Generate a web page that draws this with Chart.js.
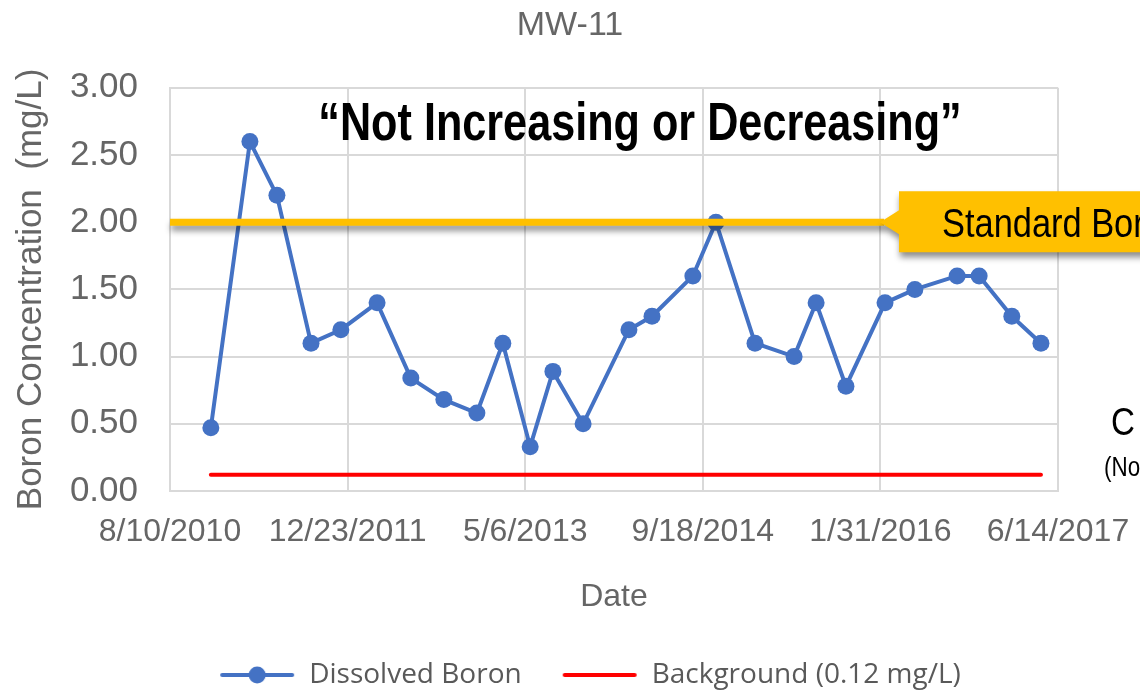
<!DOCTYPE html>
<html>
<head>
<meta charset="utf-8">
<script src="https://cdn.jsdelivr.net/npm/chart.js@4.4.1/dist/chart.umd.min.js"></script>
<style>
  html, body { margin: 0; padding: 0; background: #fff; }
  #wrap { width: 1140px; height: 693px; }
</style>
</head>
<body>
<div id="wrap"><canvas id="boronChart" width="1140" height="693"></canvas></div>
<script>
// sample dates and dissolved boron results (mg/L)
const sampleDates = [
    '12/3/2010', '3/23/2011', '6/7/2011', '9/11/2011', '12/4/2011',
    '3/15/2012', '6/18/2012', '9/19/2012', '12/21/2012', '3/4/2013',
    '5/20/2013', '7/23/2013', '10/16/2013', '2/22/2014', '4/28/2014',
    '8/21/2014', '10/25/2014', '2/12/2015', '6/2/2015', '8/3/2015',
    '10/26/2015', '2/13/2016', '5/7/2016', '9/3/2016', '11/4/2016',
    '2/4/2017', '4/27/2017'
];
const boronValues = [
    0.47, 2.60, 2.20, 1.10, 1.20,
    1.40, 0.84, 0.68, 0.58, 1.10,
    0.33, 0.89, 0.50, 1.20, 1.30,
    1.60, 2.00, 1.10, 1.00, 1.40,
    0.78, 1.40, 1.50, 1.60, 1.60,
    1.30, 1.10
];
const backgroundLevel = 0.12;
const standardLevel = 2.00;
const tickDates = ['8/10/2010', '12/23/2011', '5/6/2013', '9/18/2014', '1/31/2016', '6/14/2017'];
const seriesNames = ['Dissolved Boron', 'Background (0.12 mg/L)'];

const DAY = 86400000;
function toDay(s) {
    const [m, d, y] = s.split('/').map(Number);
    return Date.UTC(y, m - 1, d) / DAY;
}
function fromDay(v) {
    const dt = new Date(Math.round(v) * DAY);
    return (dt.getUTCMonth() + 1) + '/' + dt.getUTCDate() + '/' + dt.getUTCFullYear();
}

const grey = '#666666';
const gridGrey = '#d9d9d9';
const arial = '"Liberation Sans", Arial, sans-serif';

function legendSwatch(color, withDot) {
    const c = document.createElement('canvas');
    c.width = 76; c.height = 20;
    const g = c.getContext('2d');
    g.strokeStyle = color;
    g.lineWidth = 4;
    g.lineCap = 'round';
    g.beginPath(); g.moveTo(3, 10); g.lineTo(73, 10); g.stroke();
    if (withDot) {
        g.fillStyle = color;
        g.beginPath(); g.arc(38, 10, 8.5, 0, Math.PI * 2); g.fill();
    }
    return c;
}
const swatches = [legendSwatch('#4472C4', true), legendSwatch('#FF0000', false)];

// no narrow font installed, so squeeze Liberation Sans horizontally
function narrowText(ctx, text, x, y, font, align, sx) {
    ctx.save();
    ctx.font = font;
    ctx.textAlign = align;
    ctx.textBaseline = 'alphabetic';
    ctx.translate(x, y);
    ctx.scale(sx || 0.8, 1);
    ctx.fillText(text, 0, 0);
    ctx.restore();
}

// move title / legend so they sit where the slide had them
const blockShift = {
    id: 'blockShift',
    afterLayout(chart) {
        if (chart.titleBlock) { chart.titleBlock.left += 41; chart.titleBlock.right += 41; }
        if (chart.legend) { chart.legend.left += 61; chart.legend.right += 61; chart.legend.top += 6; chart.legend.bottom += 6; }
    }
};

// slide overlays: standard line + callout, and the quoted text
const overlays = {
    id: 'overlays',
    afterDatasetsDraw(chart) {
        const {ctx, chartArea, scales: {y}} = chart;
        const yStd = y.getPixelForValue(standardLevel);
        const tipX = chartArea.right - 178;

        ctx.save();
        ctx.shadowColor = 'rgba(0,0,0,0.45)';
        ctx.shadowBlur = 6;
        ctx.shadowOffsetX = 1;
        ctx.shadowOffsetY = 5;
        ctx.strokeStyle = '#FFC000';
        ctx.lineWidth = 7;
        ctx.beginPath();
        ctx.moveTo(chartArea.left, yStd);
        ctx.lineTo(tipX + 4, yStd);
        ctx.stroke();

        ctx.fillStyle = '#FFC000';
        ctx.beginPath();
        ctx.moveTo(tipX, yStd);
        ctx.lineTo(tipX + 19, yStd - 12);
        ctx.lineTo(tipX + 19, yStd - 31);
        ctx.lineTo(1160, yStd - 31);
        ctx.lineTo(1160, yStd + 30);
        ctx.lineTo(tipX + 19, yStd + 30);
        ctx.lineTo(tipX + 19, yStd + 12);
        ctx.closePath();
        ctx.fill();
        ctx.restore();

        ctx.fillStyle = '#000';
        narrowText(ctx, 'Standard Boron', tipX + 62, yStd + 15, '40px ' + arial, 'left', 0.86);
        narrowText(ctx, '\u201CNot Increasing or Decreasing\u201D', 640, 140, 'bold 54px ' + arial, 'center');
        narrowText(ctx, 'C', 1111, 435, '39px ' + arial, 'left', 0.85);
        narrowText(ctx, '(No', 1104, 476, '28px ' + arial, 'left');
    }
};

const points = sampleDates.map((d, i) => ({ x: toDay(d), y: boronValues[i] }));
const bgLine = [
    { x: toDay(sampleDates[0]), y: backgroundLevel },
    { x: toDay(sampleDates[sampleDates.length - 1]), y: backgroundLevel }
];

const ctx = document.getElementById('boronChart').getContext('2d');
const boronChart = new Chart(ctx, {
    type: 'line',
    data: {
        datasets: [{
            label: seriesNames[0],
            data: points,
            borderColor: '#4472C4',
            backgroundColor: '#4472C4',
            borderWidth: 4,
            pointRadius: 8.5,
            pointBorderWidth: 0,
            pointBackgroundColor: '#4472C4',
            tension: 0
        }, {
            label: seriesNames[1],
            data: bgLine,
            borderColor: '#FF0000',
            backgroundColor: '#FF0000',
            borderWidth: 4,
            borderCapStyle: 'round',
            pointRadius: 0
        }]
    },
    options: {
        responsive: false,
        animation: false,
        devicePixelRatio: 1,
        layout: { padding: { left: 0, right: 82, top: 0, bottom: 0 } },
        plugins: {
            title: {
                display: true,
                text: 'MW-11',
                color: grey,
                font: { family: arial, size: 34, weight: 'normal' },
                padding: { top: 5, bottom: 42 }
            },
            legend: {
                position: 'bottom',
                labels: {
                    usePointStyle: true,
                    pointStyleWidth: 76,
                    padding: 40,
                    color: '#595959',
                    font: { family: '"Open Sans", sans-serif', size: 28 },
                    generateLabels(chart) {
                        const items = Chart.defaults.plugins.legend.labels.generateLabels(chart);
                        items.forEach((it, i) => { it.pointStyle = swatches[i]; });
                        return items;
                    }
                }
            },
            tooltip: { enabled: false }
        },
        scales: {
            x: {
                type: 'linear',
                min: toDay(tickDates[0]),
                max: toDay(tickDates[tickDates.length - 1]),
                afterBuildTicks: axis => { axis.ticks = tickDates.map(d => ({ value: toDay(d) })); },
                afterFit: axis => { axis.height = 124; axis.paddingLeft = 0; axis.paddingRight = 0; },
                grid: { color: gridGrey, lineWidth: 2, drawTicks: false },
                border: { color: gridGrey, width: 2 },
                ticks: {
                    autoSkip: false,
                    maxRotation: 0,
                    padding: 22,
                    color: grey,
                    font: { family: arial, size: 32 },
                    callback: v => fromDay(v)
                },
                title: {
                    display: true,
                    text: 'Date',
                    color: grey,
                    font: { family: arial, size: 32 },
                    padding: { top: 0, bottom: -1 }
                }
            },
            y: {
                min: 0,
                max: 3,
                afterFit: axis => { axis.width = 170; },
                grid: { color: gridGrey, lineWidth: 2, drawTicks: false },
                border: { color: gridGrey, width: 2 },
                ticks: {
                    stepSize: 0.5,
                    padding: 32,
                    color: grey,
                    font: { family: arial, size: 35 },
                    callback: v => v.toFixed(2)
                },
                title: {
                    display: true,
                    text: 'Boron Concentration  (mg/L)',
                    color: grey,
                    font: { family: arial, size: 35 },
                    padding: { top: 10, bottom: 0 }
                }
            }
        }
    },
    plugins: [blockShift, overlays]
});
</script>
</body>
</html>
